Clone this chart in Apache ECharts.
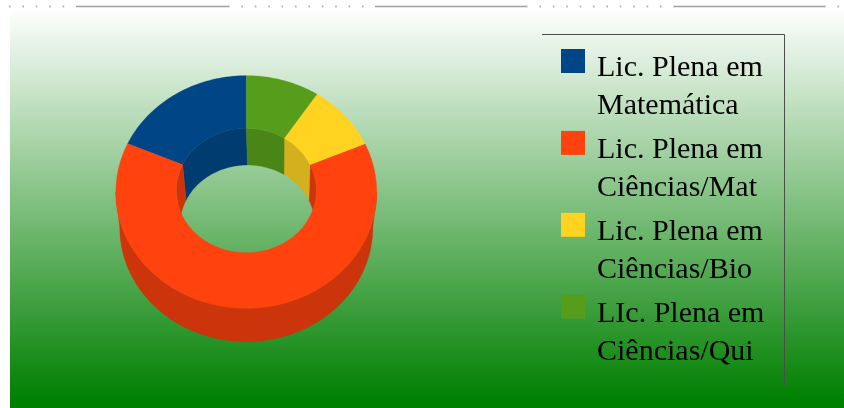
<!DOCTYPE html>
<html>
<head>
<meta charset="utf-8">
<style>html,body{margin:0;padding:0;background:#fff}#c{width:844px;height:408px}</style>
<script src="https://cdn.jsdelivr.net/npm/echarts@6/dist/echarts.min.js"></script>
</head>
<body>
<div id="c"></div>
<script>
const categories = ['Lic. Plena em\nMatemática', 'Lic. Plena em\nCiências/Mat', 'Lic. Plena em\nCiências/Bio', 'LIc. Plena em\nCiências/Qui'];
const values = [2, 7, 1, 1];
const colors = ['#004586', '#ff420e', '#ffd320', '#579d1c'];
const wallColors = ['#003c70', '#cc350b', '#d4b01e', '#4a8518'];

// ring geometry (pixels)
const outerTop = {cx: 246.3, cy: 192, rx: 130.4, ry: 116.3};
const innerTop = {cx: 246.3, cy: 190.5, rx: 70, ry: 62.2};
const outerLow = {cx: 246.3, cy: 227.7, rx: 126.5, ry: 114};
const innerLow = {cx: 247.5, cy: 225, rx: 67.5, ry: 60};

function arc(e, a0, a1) {
  const n = Math.max(2, Math.ceil(Math.abs(a1 - a0) / 1.5));
  const pts = [];
  for (let i = 0; i <= n; i++) {
    const t = (a0 + (a1 - a0) * i / n) * Math.PI / 180;
    pts.push([e.cx + e.rx * Math.cos(t), e.cy - e.ry * Math.sin(t)]);
  }
  return pts;
}
function band(e1, e2, a0, a1) {
  return arc(e1, a0, a1).concat(arc(e2, a1, a0));
}
function poly(points, fill, z2) {
  return {type: 'polygon', shape: {points}, z2, style: {fill, stroke: fill, lineWidth: 0.4}};
}
// overlap of [a0,a1] with a range repeated every 360 degrees
function overlaps(a0, a1, lo, hi) {
  const out = [];
  for (let k = -1; k <= 2; k++) {
    const s = Math.max(a0, lo + 360 * k), e = Math.min(a1, hi + 360 * k);
    if (e > s) out.push([s, e]);
  }
  return out;
}

const total = values.reduce((a, b) => a + b, 0);
let cum = 0;
const series = categories.map((name, i) => {
  const a0 = 90 + cum / total * 360;
  cum += values[i];
  const a1 = 90 + cum / total * 360;
  return {
    type: 'custom',
    name,
    coordinateSystem: 'none',
    silent: true,
    animation: false,
    itemStyle: {color: colors[i]},
    data: [[a0, a1, values[i]]],
    renderItem(params, api) {
      const s = api.value(0), e = api.value(1);
      const children = [];
      overlaps(s, e, 180, 360).forEach(r => children.push(poly(band(outerTop, outerLow, r[0], r[1]), wallColors[i], 1)));
      overlaps(s, e, 0, 180).forEach(r => children.push(poly(band(innerTop, innerLow, r[0], r[1]), wallColors[i], 2)));
      children.push(poly(band(outerTop, innerTop, s, e), colors[i], 5));
      return {type: 'group', children};
    }
  };
});

// strip of the page above the chart
const dashedRuns = [[9, 76], [228, 375], [526, 674], [824, 844]];
const solidRuns = [[76, 228], [375, 526], [674, 824]];
const strip = [];
dashedRuns.forEach(r => strip.push({type: 'line', silent: true, shape: {x1: r[0], y1: 6.5, x2: r[1], y2: 6.5}, style: {stroke: '#b4b4b4', lineWidth: 2, lineDash: [1.6, 11.8]}}));
solidRuns.forEach(r => strip.push({type: 'line', silent: true, shape: {x1: r[0], y1: 6.5, x2: r[1], y2: 6.5}, style: {stroke: '#a0a0a0', lineWidth: 1.6}}));

const chart = echarts.init(document.getElementById('c'), null, {renderer: 'canvas'});
chart.setOption({
  animation: false,
  color: colors,
  graphic: {elements: [
    {type: 'rect', z: -10, silent: true, shape: {x: 10, y: 8, width: 834, height: 400},
     style: {fill: new echarts.graphic.LinearGradient(0, 0, 0, 1, [{offset: 0, color: '#ffffff'}, {offset: 0.98, color: '#008000'}, {offset: 1, color: '#008000'}])}},
    ...strip,
    {type: 'polyline', silent: true, shape: {points: [[542, 34.5], [784.5, 34.5], [784.5, 385]]}, style: {fill: null, stroke: '#4a4f4a', lineWidth: 1}}
  ]},
  legend: {
    left: 561,
    top: 18,
    orient: 'vertical',
    selectedMode: false,
    icon: 'path://M0 0H1V1H0Z',
    itemWidth: 38,
    itemHeight: 24,
    itemGap: -21.6,
    padding: 0,
    data: categories,
    formatter: name => '{b| }\n' + name.split('\n').map(l => '{a|' + l + '}').join('\n'),
    textStyle: {
      fontFamily: '"Liberation Serif", serif',
      fontSize: 30,
      color: '#000',
      rich: {
        a: {fontFamily: '"Liberation Serif", serif', fontSize: 30, lineHeight: 38, color: '#000'},
        b: {fontSize: 10, lineHeight: 53}
      }
    }
  },
  series
});
</script>
</body>
</html>
